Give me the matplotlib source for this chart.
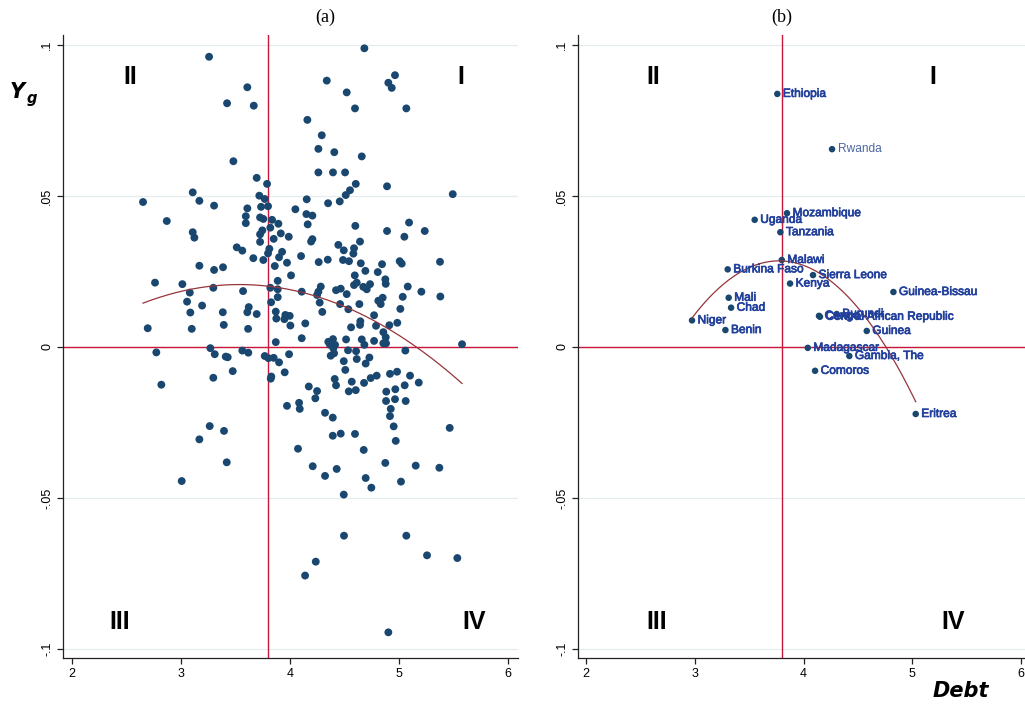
#!/usr/bin/env python3
"""Growth vs. debt quadrant scatter: (a) all observations, (b) country averages."""

import numpy as np
import matplotlib
matplotlib.use("Agg")
import matplotlib.pyplot as plt
import matplotlib.patheffects as pe

# ---- data ------------------------------------------------------------------
# panel (a): observations with non-negative growth
debt_pos = [
    4.682, 3.257, 4.337, 4.963, 4.902, 4.933, 3.608, 4.520, 3.422, 3.667,
    4.596, 5.067, 4.159, 4.291, 4.260, 4.406, 4.658, 3.480, 4.260, 4.394,
    4.505, 3.694, 3.789, 4.603, 4.890, 4.550, 4.511, 3.107, 5.493, 2.651,
    3.168, 3.303, 3.718, 3.768, 4.153, 4.349, 4.456, 3.798, 3.734, 3.608,
    4.049, 3.594, 3.725, 3.755, 4.150, 4.205, 3.835, 2.869, 3.594, 3.893,
    4.162, 4.599, 5.092, 3.819, 3.107, 3.122, 3.746, 3.725, 3.915, 3.988,
    4.890, 5.236, 5.049, 3.850, 4.205, 4.193, 3.725, 4.642, 4.443, 3.511,
    3.562, 3.810, 4.493, 4.587, 3.798, 3.927, 4.581, 3.899, 3.663, 3.755,
    4.101, 4.263, 4.346, 4.486, 4.541, 4.649, 5.006, 5.025, 5.376, 4.844,
    3.972, 3.168, 3.303, 3.385, 3.860, 4.691, 4.805, 4.874, 4.878, 4.009,
    4.594, 3.887, 2.761, 3.012, 3.296, 3.569, 3.080, 3.819, 3.887, 4.107,
    4.282, 4.260, 4.248, 4.422, 4.465, 4.520, 4.587, 4.612, 4.672, 4.734,
    4.704, 5.080, 5.205, 5.379, 5.034, 4.850, 4.810, 4.832, 5.012, 4.636,
    4.535, 4.459, 4.272, 4.296, 3.887, 3.826, 3.055, 3.193, 3.621, 3.608,
    3.085, 3.383, 3.694, 3.869, 3.957, 3.997, 3.874, 3.948, 4.771, 4.645,
    4.642, 4.984, 4.911, 4.789, 4.003, 4.140, 3.392, 2.694, 3.098, 3.615,
    4.560, 4.856, 4.878, 4.881, 4.856, 4.107, 4.658, 4.394, 4.514, 4.682,
    4.771, 3.869, 4.351, 4.413, 4.367, 5.578,
]
growth_pos = [
    0.0989, 0.0961, 0.0882, 0.0900, 0.0875, 0.0858, 0.0860, 0.0843, 0.0807, 0.0799,
    0.0790, 0.0790, 0.0752, 0.0701, 0.0656, 0.0645, 0.0631, 0.0615, 0.0578, 0.0578,
    0.0578, 0.0560, 0.0540, 0.0540, 0.0532, 0.0519, 0.0503, 0.0512, 0.0506, 0.0480,
    0.0484, 0.0468, 0.0501, 0.0490, 0.0489, 0.0476, 0.0482, 0.0466, 0.0464, 0.0459,
    0.0456, 0.0433, 0.0429, 0.0424, 0.0440, 0.0435, 0.0421, 0.0417, 0.0410, 0.0408,
    0.0406, 0.0401, 0.0412, 0.0395, 0.0380, 0.0362, 0.0386, 0.0373, 0.0376, 0.0365,
    0.0384, 0.0384, 0.0365, 0.0358, 0.0357, 0.0349, 0.0348, 0.0349, 0.0338, 0.0330,
    0.0319, 0.0325, 0.0320, 0.0327, 0.0310, 0.0315, 0.0309, 0.0297, 0.0294, 0.0288,
    0.0301, 0.0281, 0.0289, 0.0288, 0.0284, 0.0277, 0.0284, 0.0276, 0.0282, 0.0274,
    0.0279, 0.0269, 0.0255, 0.0264, 0.0268, 0.0252, 0.0248, 0.0224, 0.0209, 0.0237,
    0.0237, 0.0219, 0.0213, 0.0208, 0.0196, 0.0185, 0.0180, 0.0196, 0.0191, 0.0183,
    0.0200, 0.0183, 0.0172, 0.0188, 0.0193, 0.0175, 0.0205, 0.0213, 0.0199, 0.0208,
    0.0191, 0.0200, 0.0183, 0.0167, 0.0166, 0.0163, 0.0153, 0.0142, 0.0126, 0.0142,
    0.0125, 0.0142, 0.0147, 0.0116, 0.0165, 0.0148, 0.0150, 0.0137, 0.0132, 0.0115,
    0.0114, 0.0115, 0.0109, 0.0117, 0.0106, 0.0103, 0.0094, 0.0092, 0.0105, 0.0085,
    0.0073, 0.0080, 0.0072, 0.0070, 0.0071, 0.0078, 0.0073, 0.0062, 0.0060, 0.0060,
    0.0065, 0.0049, 0.0032, 0.0012, 0.0012, 0.0029, 0.0025, 0.0026, 0.0025, 0.0007,
    0.0020, 0.0016, 0.0017, 0.0007, 0.0007, 0.0009,
]
# panel (a): observations with negative growth
debt_neg = [
    2.773, 3.269, 3.309, 3.410, 3.428, 3.562, 3.617, 3.768, 3.801, 3.850,
    3.899, 3.991, 4.373, 4.404, 4.397, 4.532, 4.606, 4.612, 4.728, 4.694,
    4.493, 5.058, 2.819, 3.296, 3.474, 3.828, 3.823, 3.951, 4.507, 4.410,
    4.422, 4.566, 4.679, 4.740, 4.795, 4.917, 4.982, 5.101, 5.181, 5.052,
    4.966, 4.883, 4.539, 4.603, 4.172, 4.248, 4.232, 4.881, 4.963, 5.061,
    4.924, 4.917, 3.972, 4.083, 4.089, 4.321, 4.392, 4.951, 5.465, 3.263,
    3.394, 3.168, 4.392, 4.465, 4.596, 4.970, 4.073, 4.676, 3.419, 4.208,
    4.428, 4.874, 5.153, 5.370, 4.321, 4.694, 4.746, 5.018, 3.006, 4.493,
    4.495, 5.067, 5.257, 5.535, 4.236, 4.138, 4.902,
]
growth_neg = [
    -0.0018, -0.0004, -0.0024, -0.0032, -0.0034, -0.0012, -0.0019, -0.0030, -0.0037, -0.0036,
    -0.0051, -0.0024, -0.0029, -0.0021, -0.0004, -0.0011, -0.0014, -0.0040, -0.0035, -0.0055,
    -0.0047, -0.0012, -0.0125, -0.0102, -0.0080, -0.0098, -0.0105, -0.0084, -0.0076, -0.0106,
    -0.0127, -0.0115, -0.0119, -0.0103, -0.0095, -0.0089, -0.0082, -0.0095, -0.0118, -0.0127,
    -0.0140, -0.0148, -0.0147, -0.0143, -0.0131, -0.0146, -0.0170, -0.0179, -0.0173, -0.0179,
    -0.0205, -0.0229, -0.0195, -0.0185, -0.0205, -0.0218, -0.0234, -0.0263, -0.0268, -0.0262,
    -0.0278, -0.0306, -0.0294, -0.0287, -0.0288, -0.0311, -0.0337, -0.0341, -0.0382, -0.0395,
    -0.0404, -0.0384, -0.0393, -0.0400, -0.0427, -0.0434, -0.0466, -0.0446, -0.0444, -0.0489,
    -0.0625, -0.0625, -0.0690, -0.0699, -0.0711, -0.0757, -0.0945,
]

# panel (b): country averages
countries = [
    "Ethiopia", "Rwanda", "Mozambique", "Uganda", "Tanzania", "Malawi",
    "Burkina Faso", "Sierra Leone", "Kenya", "Guinea-Bissau", "Mali", "Chad",
    "Burundi", "Congo", "Central African Republic", "Niger", "Benin", "Guinea",
    "Madagascar", "Gambia, The", "Comoros", "Eritrea",
]
country_debt = [
    3.758, 4.261, 3.847, 3.550, 3.786, 3.799,
    3.302, 4.086, 3.875, 4.825, 3.311, 3.333,
    4.304, 4.141, 4.150, 2.974, 3.281, 4.580,
    4.038, 4.420, 4.105, 5.030,
]
country_growth = [
    0.0838, 0.0655, 0.0443, 0.0421, 0.0380, 0.0288,
    0.0257, 0.0238, 0.0210, 0.0182, 0.0163, 0.0130,
    0.0109, 0.0103, 0.0100, 0.0088, 0.0056, 0.0053,
    -0.0003, -0.0030, -0.0079, -0.0222,
]

debt_ref = 3.8
y_ticks = [-0.1, -0.05, 0, 0.05, 0.1]
y_tick_labels = ["-.1", "-.05", "0", ".05", ".1"]
x_ticks = [2, 3, 4, 5, 6]

NAVY = "#1a476f"
RED = "#c8173a"
FIT = "#96353b"
GRID = "#e4ecef"
LABEL_BLUE = "#22409c"
NARROW = ["Liberation Sans Narrow", "Liberation Sans", "DejaVu Sans"]


def style_axes(ax, xlim):
    ax.set_xlim(*xlim)
    ax.set_ylim(-0.103, 0.1033)
    ax.set_xticks(x_ticks)
    ax.set_yticks(y_ticks)
    ax.set_yticklabels(y_tick_labels, rotation=90, va="center")
    for lab in ax.get_xticklabels() + ax.get_yticklabels():
        lab.set_family(NARROW)
        lab.set_fontsize(9)
    ax.tick_params(direction="out", length=4, width=0.9, color="#222222", pad=3)
    for side in ("top", "right"):
        ax.spines[side].set_visible(False)
    for side in ("left", "bottom"):
        ax.spines[side].set_color("#222222")
        ax.spines[side].set_linewidth(0.9)
    ax.grid(axis="y", color=GRID, linewidth=0.9, zorder=0)
    ax.set_axisbelow(True)
    ax.axvline(debt_ref, color=RED, linewidth=1.0, zorder=2)
    ax.axhline(0, color=RED, linewidth=1.0, zorder=2)


def qfit(ax, x, y):
    x = np.asarray(x, dtype=float)
    y = np.asarray(y, dtype=float)
    coef = np.polyfit(x, y, 2)
    xs = np.linspace(x.min(), x.max(), 200)
    ax.plot(xs, np.polyval(coef, xs), color=FIT, linewidth=0.9, zorder=4)


def quadrant(ax, x, y, text):
    ax.text(x, y, text, ha="center", va="center", fontsize=18,
            fontweight="bold", family=NARROW, color="black", zorder=5)


def main():
    fig = plt.figure(figsize=(10.25, 7.06), dpi=100)
    fig.patch.set_facecolor("white")

    ax_a = fig.add_axes([0.0615, 0.0680, 0.4439, 0.8824])
    ax_b = fig.add_axes([0.5639, 0.0680, 0.4439, 0.8824])

    # (a) all observations
    style_axes(ax_a, (1.917, 6.092))
    ax_a.scatter(debt_pos + debt_neg, growth_pos + growth_neg, s=32,
                 color=NAVY, edgecolors="none", zorder=3)
    qfit(ax_a, debt_pos + debt_neg, growth_pos + growth_neg)
    quadrant(ax_a, 2.53, 0.0894, "II")
    quadrant(ax_a, 5.57, 0.0894, "I")
    quadrant(ax_a, 2.44, -0.091, "III")
    quadrant(ax_a, 5.69, -0.091, "IV")

    # (b) country averages
    style_axes(ax_b, (1.926, 6.108))
    ax_b.scatter(country_debt, country_growth, s=22, color=NAVY,
                 edgecolors="none", zorder=3)
    qfit(ax_b, country_debt, country_growth)
    for name, xv, yv in zip(countries, country_debt, country_growth):
        light = name == "Rwanda"
        txt = ax_b.annotate(name, (xv, yv), xytext=(4, 0), textcoords="offset points",
                            ha="left", va="center", fontsize=8.6,
                            family=["Liberation Sans", "DejaVu Sans"],
                            color="#4d66a3" if light else LABEL_BLUE, zorder=5)
        if not light:
            txt.set_path_effects([pe.withStroke(linewidth=0.5, foreground=LABEL_BLUE)])
    quadrant(ax_b, 2.62, 0.0894, "II")
    quadrant(ax_b, 5.19, 0.0894, "I")
    quadrant(ax_b, 2.65, -0.091, "III")
    quadrant(ax_b, 5.37, -0.091, "IV")

    # panel titles and axis captions
    fig.text(325 / 1025, 1 - 17 / 706, "(a)", ha="center", va="center",
             fontsize=13, family=["Liberation Serif", "DejaVu Serif"])
    fig.text(782 / 1025, 1 - 17 / 706, "(b)", ha="center", va="center",
             fontsize=13, family=["Liberation Serif", "DejaVu Serif"])
    fig.text(10 / 1025, 1 - 98 / 706, "Y", ha="left", va="baseline",
             fontsize=15, fontweight="bold", style="italic", family="DejaVu Sans")
    fig.text(27 / 1025, 1 - 103 / 706, "g", ha="left", va="baseline",
             fontsize=10.5, fontweight="bold", style="italic", family="DejaVu Sans")
    fig.text(961 / 1025, 1 - 691 / 706, "Debt", ha="center", va="center",
             fontsize=15, fontweight="bold", style="italic", family="DejaVu Sans")

    fig.savefig("out.png", dpi=100, facecolor="white")
    plt.close(fig)


if __name__ == "__main__":
    main()
